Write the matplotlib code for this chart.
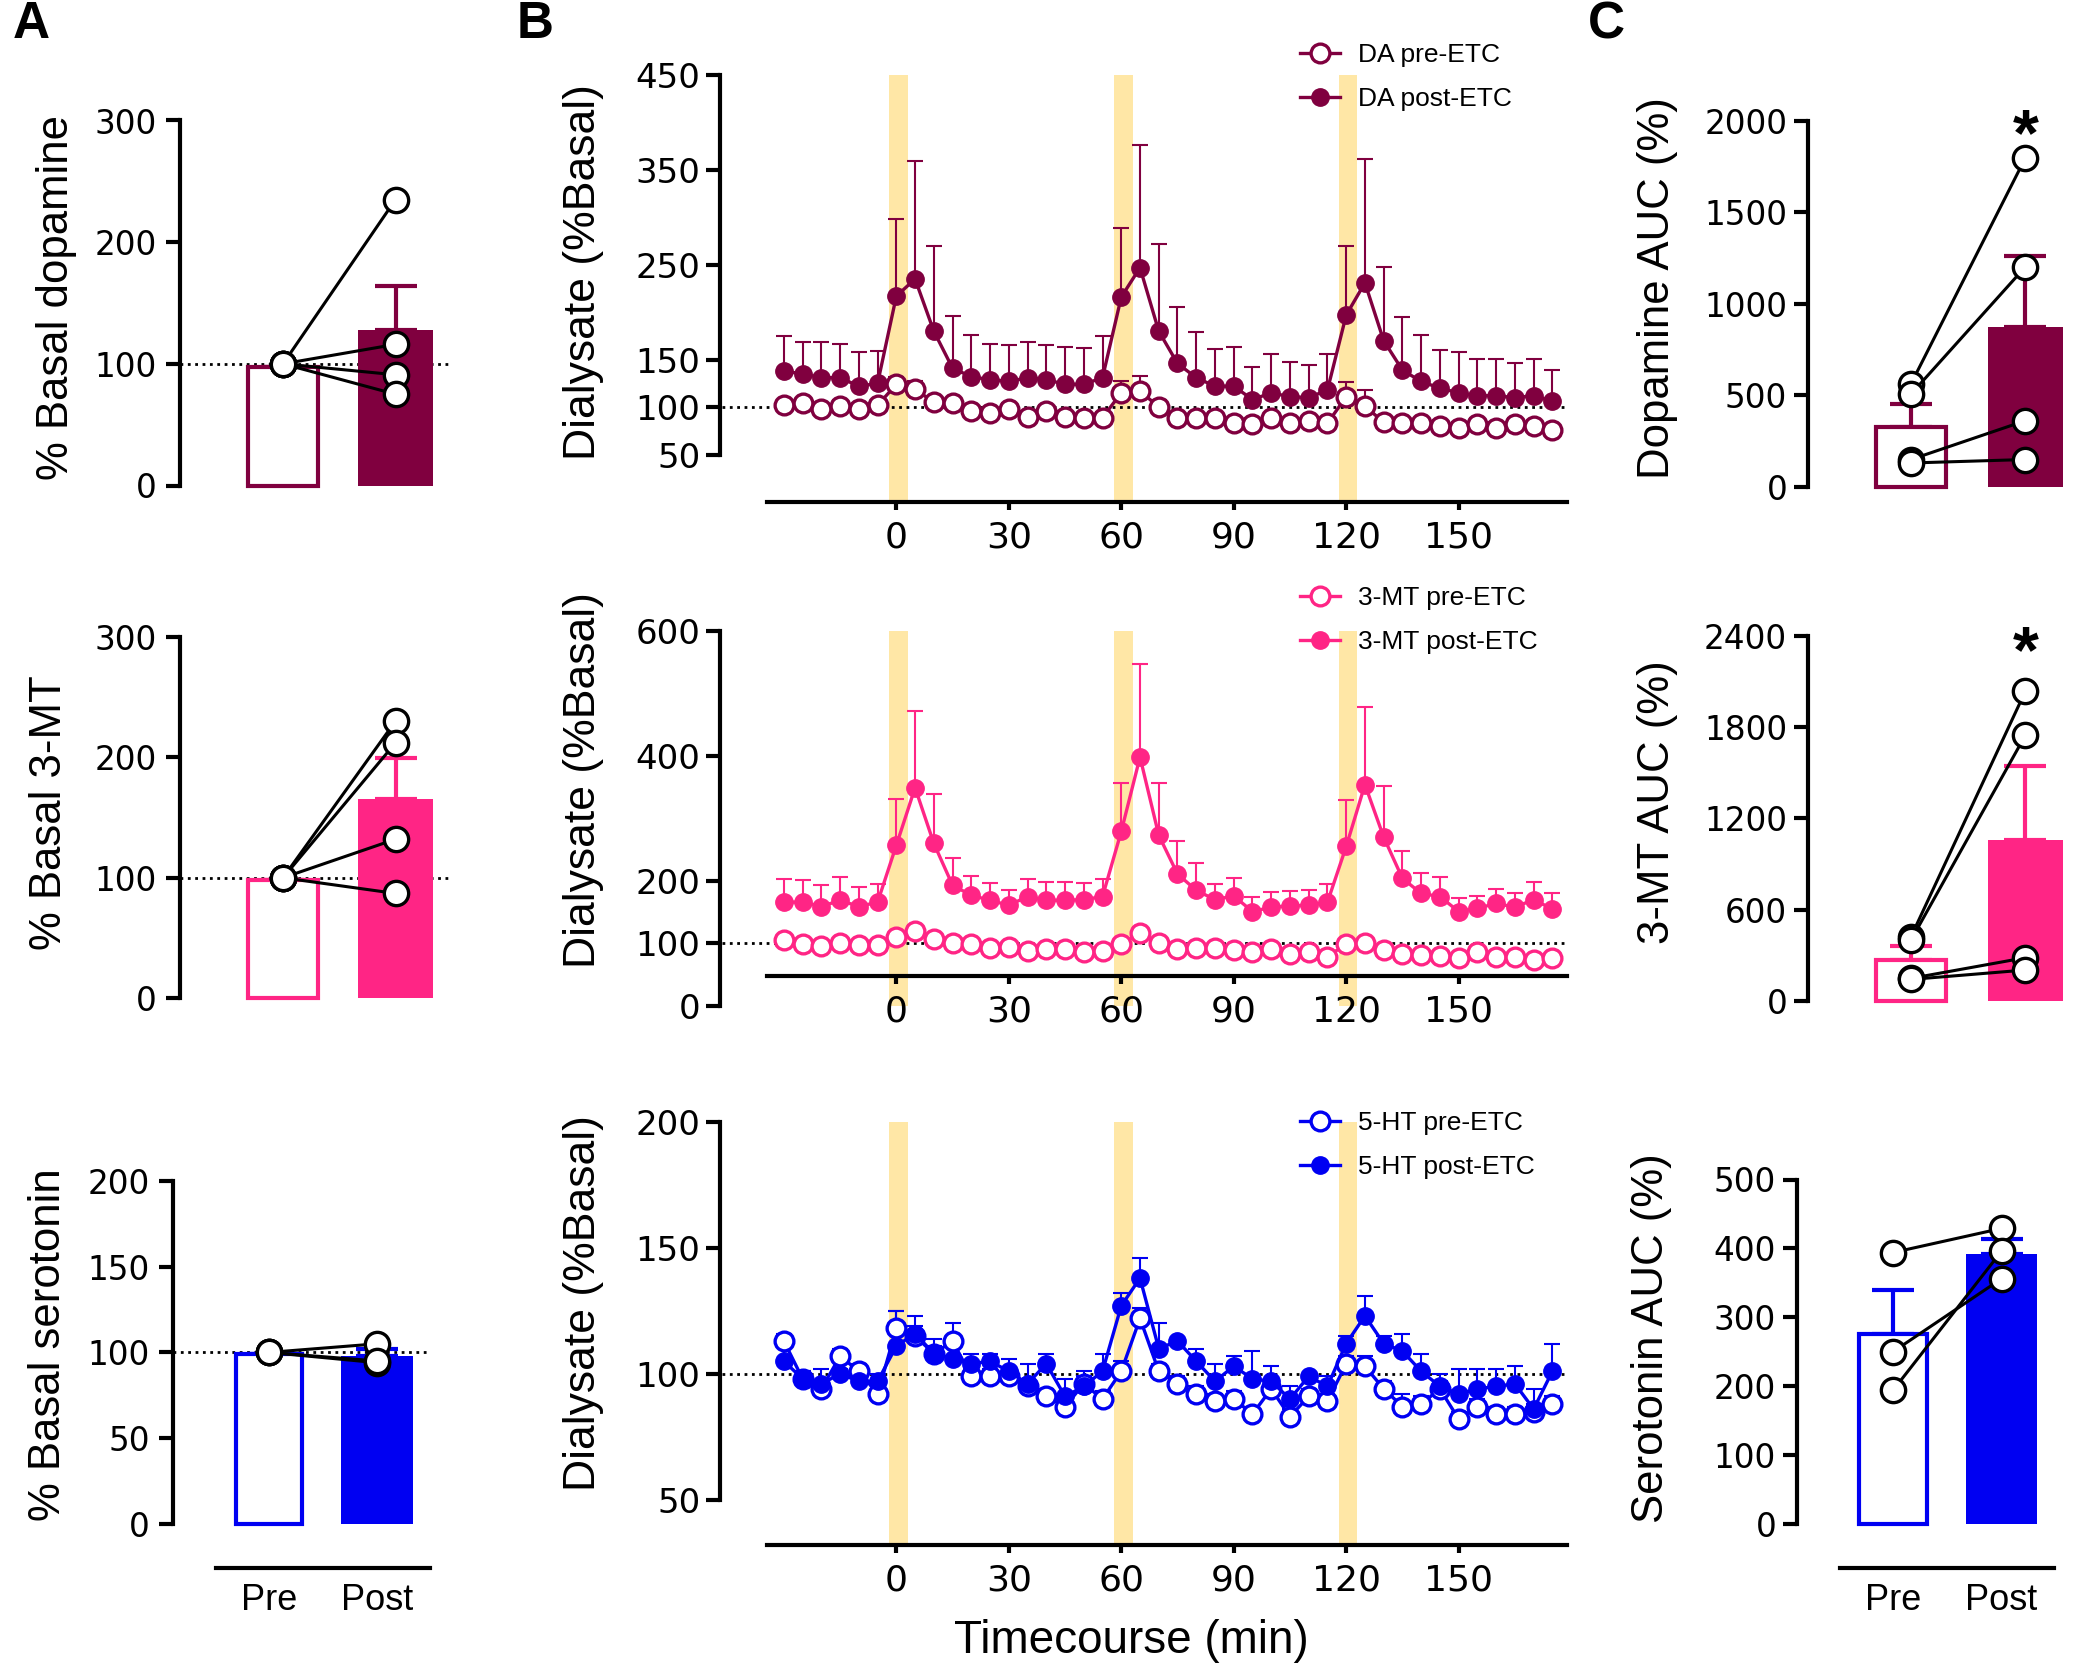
import matplotlib
matplotlib.use("Agg")
import matplotlib.pyplot as plt
from matplotlib.lines import Line2D
import numpy as np

# ---------------- data ----------------
time_min = [-30, -25, -20, -15, -10, -5, 0, 5, 10, 15, 20, 25, 30, 35, 40, 45, 50, 55,
            60, 65, 70, 75, 80, 85, 90, 95, 100, 105, 110, 115, 120, 125, 130, 135,
            140, 145, 150, 155, 160, 165, 170, 175]
stim_on = [-2, 58, 118]
stim_off = [3, 63, 123]

da_pre = [102, 104, 98, 101, 98, 102, 124, 119, 105, 104, 96, 94, 98, 90, 96, 90, 88, 89,
          115, 117, 100, 89, 89, 89, 83, 82, 88, 83, 85, 83, 111, 101, 84, 83, 83, 80,
          78, 82, 78, 82, 80, 76]
da_pre_sem = [6, 6, 6, 6, 6, 6, 8, 8, 6, 6, 6, 6, 6, 6, 6, 6, 6, 6,
              12, 16, 8, 6, 6, 6, 6, 6, 6, 6, 6, 6, 15, 17, 6, 6, 6, 6,
              6, 6, 6, 6, 6, 6]
da_post = [138, 135, 131, 131, 122, 125, 217, 235, 180, 141, 132, 129, 127, 131, 129, 124, 124, 131,
           216, 247, 180, 146, 131, 122, 122, 108, 115, 111, 110, 118, 197, 231, 170, 139, 127, 120,
           115, 112, 112, 110, 112, 106]
da_post_sem = [37, 34, 38, 35, 36, 34, 81, 124, 90, 55, 44, 37, 38, 38, 36, 39, 38, 44,
               73, 129, 92, 59, 48, 39, 41, 34, 41, 37, 34, 38, 73, 131, 78, 56, 49, 40,
               43, 39, 39, 37, 39, 33]

mt_pre = [105, 99, 96, 100, 97, 97, 111, 120, 107, 101, 99, 93, 95, 88, 91, 91, 87, 88,
          99, 116, 101, 91, 92, 92, 90, 87, 91, 83, 87, 79, 99, 100, 90, 83, 82, 80,
          77, 87, 79, 79, 74, 77]
mt_pre_sem = [6, 6, 6, 6, 6, 6, 8, 10, 6, 6, 6, 6, 6, 6, 6, 6, 6, 6,
              6, 10, 6, 6, 6, 6, 6, 6, 6, 6, 6, 6, 6, 8, 6, 6, 6, 6,
              6, 6, 6, 6, 6, 6]
mt_post = [166, 166, 159, 169, 159, 166, 257, 349, 260, 193, 177, 169, 161, 175, 169, 169, 170, 175,
           279, 398, 273, 211, 185, 170, 176, 151, 158, 160, 161, 166, 255, 354, 270, 204, 180, 175,
           151, 156, 164, 158, 170, 155]
mt_post_sem = [37, 36, 34, 38, 32, 29, 74, 123, 79, 43, 31, 28, 25, 28, 29, 29, 27, 28,
               78, 149, 84, 53, 44, 25, 28, 23, 24, 24, 25, 29, 75, 124, 81, 44, 32, 31,
               21, 20, 23, 22, 29, 25]

ht_pre = [113, 98, 94, 107, 101, 92, 118, 115, 108, 113, 99, 99, 99, 95, 91, 87, 96, 90,
          101, 122, 101, 96, 92, 89, 90, 84, 94, 83, 91, 89, 104, 103, 94, 87, 88, 94,
          82, 87, 84, 84, 85, 88]
ht_pre_sem = [3, 3, 3, 3, 3, 3, 7, 4, 3, 7, 3, 3, 3, 3, 3, 3, 3, 3,
              4, 4, 3, 3, 3, 3, 3, 3, 3, 3, 3, 3, 3, 4, 3, 5, 3, 3,
              3, 3, 3, 3, 3, 3]
ht_post = [105, 98, 96, 100, 97, 97, 111, 116, 108, 106, 104, 105, 101, 96, 104, 91, 95, 101,
           127, 138, 110, 113, 105, 97, 103, 98, 97, 90, 99, 95, 112, 123, 112, 109, 101, 95,
           92, 94, 95, 96, 86, 101]
ht_post_sem = [7, 3, 6, 2, 3, 3, 14, 7, 6, 6, 4, 3, 5, 8, 4, 7, 6, 7,
               5, 8, 10, 1, 5, 7, 4, 11, 6, 5, 1, 4, 3, 8, 3, 7, 7, 5,
               10, 8, 7, 7, 8, 11]

# panel A: % basal (bar means, SEM, individual animals)
a_da_bar, a_da_sem = [97, 128], [0, 36]
a_da_pre, a_da_post = [100, 100, 100, 100], [235, 116, 91, 75]
a_mt_bar, a_mt_sem = [98, 165], [0, 34]
a_mt_pre, a_mt_post = [100, 100, 100, 100], [230, 212, 132, 87]
a_ht_bar, a_ht_sem = [99, 97.7], [0, 4]
a_ht_pre, a_ht_post = [100, 100, 100], [105, 94, 95]

# panel C: AUC
c_da_bar, c_da_sem = [329, 873], [122, 389]
c_da_pre, c_da_post = [563, 507, 150, 131], [1797, 1202, 362, 150]
c_mt_bar, c_mt_sem = [268, 1057], [92, 488]
c_mt_pre, c_mt_post = [421, 399, 147, 140], [2038, 1748, 283, 202]
c_ht_bar, c_ht_sem = [276, 392], [63, 22]
c_ht_pre, c_ht_post = [394, 250, 194], [429, 356, 396]

groups = ["Pre", "Post"]

DA_C = "#80003F"
MT_C = "#FF2585"
HT_C = "#0000F2"
BAND = "#FFE7A6"
LAB = "Liberation Sans"

W, H = 2075, 1672
fig = plt.figure(figsize=(W / 100, H / 100), dpi=100)


def box(x0, ytop, x1, ybot):
    return fig.add_axes([x0 / W, 1 - ybot / H, (x1 - x0) / W, (ybot - ytop) / H])


def fxy(px, py):
    return (px / W, 1 - py / H)


def place_ylabel(ax, text, px, py, size=31.5):
    ax.set_ylabel(text, fontsize=size, family=LAB)
    ax.yaxis.set_label_coords(px / W, 1 - py / H, transform=fig.transFigure)
    ax.yaxis.label.set_va("center")


def pair_panel(ax, bar, sem, pre, post, color, xlim, ylim, yticks, ylabel, lab_xy,
               dotted=False, star_y=None, xline=None, tick_pad=6):
    ax.set_xlim(*xlim)
    ax.set_ylim(*ylim)
    for s in ["top", "right"]:
        ax.spines[s].set_visible(False)
    ax.spines["left"].set_linewidth(3)
    if dotted:
        ax.axhline(100, color="k", ls=":", lw=2, zorder=1)
    ax.bar(0, bar[0], width=0.62, facecolor="white", edgecolor=color, linewidth=3,
           zorder=2, clip_on=False)
    ax.bar(1, bar[1], width=0.66, color=color, linewidth=0, zorder=2, clip_on=False)
    ax.errorbar([0, 1], bar, yerr=[[0, 0], sem], fmt="none", ecolor=color,
                elinewidth=3, capsize=15, capthick=3, zorder=1.5)
    for p0, p1 in zip(pre, post):
        ax.plot([0, 1], [p0, p1], "-o", color="k", lw=2.2, ms=17.5, mfc="white",
                mec="k", mew=2.4, zorder=4, clip_on=False)
    ax.set_yticks(yticks)
    ax.tick_params(axis="y", length=10, width=3, labelsize=23.5, pad=tick_pad)
    if xline is None:
        ax.spines["bottom"].set_visible(False)
        ax.set_xticks([])
    else:
        off, lo, hi = xline
        ax.spines["bottom"].set_position(("outward", off))
        ax.spines["bottom"].set_bounds(lo, hi)
        ax.spines["bottom"].set_linewidth(3)
        ax.set_xticks([0, 1], groups)
        ax.tick_params(axis="x", length=0, labelsize=26, pad=11)
        for t in ax.get_xticklabels():
            t.set_fontfamily(LAB)
    if star_y is not None:
        ax.text(1, star_y, "*", ha="center", va="baseline", fontsize=48,
                fontweight="bold", family=LAB, clip_on=False)
    place_ylabel(ax, ylabel, *lab_xy)


def time_panel(ax, pre, pre_sem, post, post_sem, color, ylim, yticks, bounds,
               xaxis_at, names, leg_top, lab_xy):
    ax.set_xlim(-34.5, 178.9)
    ax.set_ylim(*ylim)
    for a, b in zip(stim_on, stim_off):
        ax.fill_betweenx([ylim[0], bounds[1]], a, b, color=BAND, lw=0, zorder=0)
    ax.plot([-46.5, 178.9], [100, 100], color="k", ls=":", lw=2, zorder=1,
            clip_on=False)
    zeros = np.zeros(len(time_min))
    ax.errorbar(time_min, pre, yerr=[zeros, pre_sem], fmt="none", ecolor=color,
                elinewidth=1.5, capsize=6, capthick=1.5, zorder=2, clip_on=False)
    ax.errorbar(time_min, post, yerr=[zeros, post_sem], fmt="none", ecolor=color,
                elinewidth=1.5, capsize=6, capthick=1.5, zorder=2, clip_on=False)
    ax.plot(time_min, pre, "-o", color=color, lw=2.4, ms=13.5, mfc="white", mec=color,
            mew=2.4, zorder=3, clip_on=False)
    ax.plot(time_min, post, "-o", color=color, lw=2.4, ms=12.5, mfc=color, mec=color,
            mew=1, zorder=4, clip_on=False)
    for s in ["top", "right"]:
        ax.spines[s].set_visible(False)
    ax.spines["left"].set_position(("outward", 33.8))
    ax.spines["left"].set_bounds(*bounds)
    ax.spines["left"].set_linewidth(3)
    ax.spines["bottom"].set_linewidth(3)
    if xaxis_at is not None:
        ax.spines["bottom"].set_position(("data", xaxis_at))
    ax.set_yticks(yticks)
    ax.set_xticks([0, 30, 60, 90, 120, 150])
    ax.tick_params(axis="y", length=10, width=3, labelsize=24.5, pad=4)
    ax.tick_params(axis="x", length=6, width=3, labelsize=26, pad=7)
    handles = [
        Line2D([], [], color=color, lw=2.4, marker="o", ms=13.5, mfc="white", mec=color, mew=2.4),
        Line2D([], [], color=color, lw=2.4, marker="o", ms=12.5, mfc=color, mec=color),
    ]
    ax.legend(handles, names, loc="upper left", bbox_to_anchor=fxy(1300, leg_top),
              bbox_transform=fig.transFigure, frameon=False, prop={"family": LAB, "size": 19},
              handlelength=1.5, handletextpad=0.7, labelspacing=0.75, borderpad=0,
              borderaxespad=0)
    place_ylabel(ax, "Dialysate (%Basal)", *lab_xy, size=32)


# ---------------- panel A ----------------
axA1 = box(180, 120.5, 452, 485.5)
pair_panel(axA1, a_da_bar, a_da_sem, a_da_pre, a_da_post, DA_C, (-0.916, 1.502), (0, 300),
           [0, 100, 200, 300], "% Basal dopamine", (57, 297), dotted=True, tick_pad=6.5)
axA2 = box(180, 636.7, 452, 998.3)
pair_panel(axA2, a_mt_bar, a_mt_sem, a_mt_pre, a_mt_post, MT_C, (-0.916, 1.502), (0, 300),
           [0, 100, 200, 300], "% Basal 3-MT", (50, 813), dotted=True, tick_pad=6.5)
axA3 = box(173, 1180.8, 430, 1524)
pair_panel(axA3, a_ht_bar, a_ht_sem, a_ht_pre, a_ht_post, HT_C, (-0.889, 1.491), (0, 200),
           [0, 50, 100, 150, 200], "% Basal serotonin", (49, 1345), dotted=True,
           xline=(31.7, -0.49, 1.49), tick_pad=6.5)

# ---------------- panel B ----------------
axB1 = box(767, 75, 1567, 502)
time_panel(axB1, da_pre, da_pre_sem, da_post, da_post_sem, DA_C, (0, 450),
           [50, 100, 150, 250, 350, 450], (50, 450), None,
           ["DA pre-ETC", "DA post-ETC"], 43, (584, 272))
axB2 = box(767, 630.7, 1567, 1006)
time_panel(axB2, mt_pre, mt_pre_sem, mt_post, mt_post_sem, MT_C, (0, 600),
           [0, 100, 200, 400, 600], (0, 600), 48,
           ["3-MT pre-ETC", "3-MT post-ETC"], 586, (584, 780))
axB3 = box(767, 1122, 1567, 1545)
time_panel(axB3, ht_pre, ht_pre_sem, ht_post, ht_post_sem, HT_C, (32, 200),
           [50, 100, 150, 200], (50, 200), None,
           ["5-HT pre-ETC", "5-HT post-ETC"], 1111, (584, 1303))
axB3.set_xlabel("Timecourse (min)", fontsize=33, family=LAB)
axB3.xaxis.set_label_coords(1131 / W, 1 - 1641 / H, transform=fig.transFigure)
axB3.xaxis.label.set_va("center")

# ---------------- panel C ----------------
axC1 = box(1808, 120.5, 2070, 487)
pair_panel(axC1, c_da_bar, c_da_sem, c_da_pre, c_da_post, DA_C, (-0.9, 1.389), (0, 2000),
           [0, 500, 1000, 1500, 2000], "Dopamine AUC (%)", (1657, 288), star_y=1812,
           tick_pad=5)
axC2 = box(1808, 636, 2070, 1000.7)
pair_panel(axC2, c_mt_bar, c_mt_sem, c_mt_pre, c_mt_post, MT_C, (-0.9, 1.389), (0, 2400),
           [0, 600, 1200, 1800, 2400], "3-MT AUC (%)", (1657, 802), star_y=2163,
           tick_pad=5)
axC3 = box(1797, 1179.5, 2065, 1524)
pair_panel(axC3, c_ht_bar, c_ht_sem, c_ht_pre, c_ht_post, HT_C, (-0.885, 1.585), (0, 500),
           [0, 100, 200, 300, 400, 500], "Serotonin AUC (%)", (1652, 1338),
           xline=(31.5, -0.49, 1.48), tick_pad=5)

for letter, px in [("A", 31), ("B", 535), ("C", 1606)]:
    fig.text(*fxy(px, 25), letter, ha="center", va="center", fontsize=37,
             fontweight="bold", family=LAB)

fig.savefig("out.png", dpi=100)
